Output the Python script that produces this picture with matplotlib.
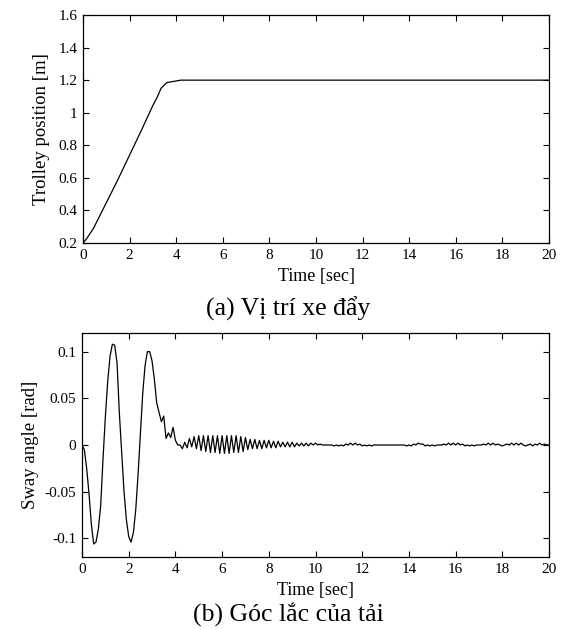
import numpy as np
import matplotlib
matplotlib.use("Agg")
import matplotlib.pyplot as plt
from matplotlib.ticker import FormatStrFormatter

# trolley position response
trolley_time = [0, 0.15, 0.45, 0.8, 1.45, 2.0, 2.5, 3.0, 3.2, 3.35, 3.6, 3.8, 4.2, 5.0, 20.0]
trolley_pos = [0.2, 0.225, 0.29, 0.39, 0.575, 0.74, 0.89, 1.045, 1.1, 1.15, 1.185, 1.19, 1.2, 1.2, 1.2]

# sway angle, sampled every 0.1 s from 0 to 20 s
sway_step = 0.1
sway_angle = [
    0, -0.005, -0.025, -0.052, -0.085, -0.106, -0.104, -0.09, -0.065, -0.015,
    0.03, 0.068, 0.095, 0.108, 0.107, 0.088, 0.034, -0.009, -0.05, -0.08,
    -0.098, -0.104, -0.094, -0.07, -0.032, 0.012, 0.055, 0.085, 0.1, 0.1,
    0.09, 0.07, 0.045, 0.035, 0.025, 0.031, 0.007, 0.013, 0.008, 0.019,
    0.005, 0.0, 0.0, -0.004, 0.003, -0.003, 0.007, -0.002, 0.009, -0.004,
    0.010, -0.006, 0.010, -0.007, 0.010, -0.008, 0.010, -0.008, 0.010, -0.009,
    0.010, -0.009, 0.010, -0.009, 0.010, -0.008, 0.010, -0.008, 0.009, -0.007,
    0.008, -0.005, 0.006, -0.004, 0.006, -0.004, 0.005, -0.004, 0.005, -0.003,
    0.005, -0.003, 0.004, -0.003, 0.004, -0.002, 0.003, -0.002, 0.003, -0.002,
    0.003, -0.002, 0.002, -0.001, 0.002, -0.001, 0.002, -0.001, 0.002, 0.0,
    0.002, 0.0, 0.001, 0, 0, 0, 0, 0, -0.001, 0,
    -0.001, 0, -0.001, 0.001, 0, 0.002, 0, 0.002, 0, 0.001,
    -0.001, 0, -0.001, 0, -0.001, 0, 0, 0, 0, 0,
    0, 0, 0, 0, 0, 0, 0, 0, 0, -0.001,
    0, -0.001, 0.001, 0, 0.002, 0.001, 0.001, -0.001, 0, -0.001,
    0, -0.001, 0, 0, 0, 0.001, 0, 0.002, 0, 0.002,
    0, 0.002, 0, 0.001, -0.001, 0, -0.001, 0, -0.001, 0,
    0, 0, 0.001, 0, 0.002, 0, 0.002, 0, 0.001, 0,
    -0.001, 0, 0.001, 0, 0.002, 0, 0.002, 0, 0.002, 0,
    -0.001, 0, 0.001, -0.001, 0.001, 0, 0.002, 0, 0.001, 0,
    0,
]
sway_time = np.arange(len(sway_angle)) * sway_step

x_ticks = list(range(0, 21, 2))
trolley_ticks = [0.2, 0.4, 0.6, 0.8, 1.0, 1.2, 1.4, 1.6]
sway_ticks = [-0.1, -0.05, 0, 0.05, 0.1]

plt.rcParams["font.family"] = ["Liberation Serif", "DejaVu Serif"]
plt.rcParams["axes.unicode_minus"] = False


def style_axes(ax):
    ax.tick_params(direction="in", top=True, right=True, length=4, width=0.8,
                   labelsize=11, pad=4)
    for sp in ax.spines.values():
        sp.set_linewidth(0.9)
    ax.yaxis.set_major_formatter(FormatStrFormatter("%g"))
    ax.set_xlim(0, 20)
    ax.set_xticks(x_ticks)
    ax.set_xlabel("Time [sec]", fontsize=13, labelpad=5)


fig = plt.figure(figsize=(5.66, 6.3), dpi=100)

ax1 = fig.add_axes([83 / 566, 1 - 243 / 630, 466 / 566, 228 / 630])
ax1.plot(trolley_time, trolley_pos, color="black", lw=0.9)
style_axes(ax1)
ax1.set_ylim(0.2, 1.6)
ax1.set_yticks(trolley_ticks)
ax1.set_ylabel("Trolley position [m]", fontsize=13.5, labelpad=6)

ax2 = fig.add_axes([82 / 566, 1 - 557 / 630, 467 / 566, 224 / 630])
ax2.plot(sway_time, sway_angle, color="black", lw=0.9)
style_axes(ax2)
ax2.set_ylim(-0.12, 0.12)
ax2.set_yticks(sway_ticks)
ax2.set_ylabel("Sway angle [rad]", fontsize=13.5, labelpad=4)

fig.text(288 / 566, 1 - 316 / 630, "(a) Vị trí xe đẩy", ha="center", va="baseline", fontsize=18.5)
fig.text(288 / 566, 1 - 621 / 630, "(b) Góc lắc của tải", ha="center", va="baseline", fontsize=18.5)

fig.savefig("out.png", dpi=100)
plt.close(fig)
